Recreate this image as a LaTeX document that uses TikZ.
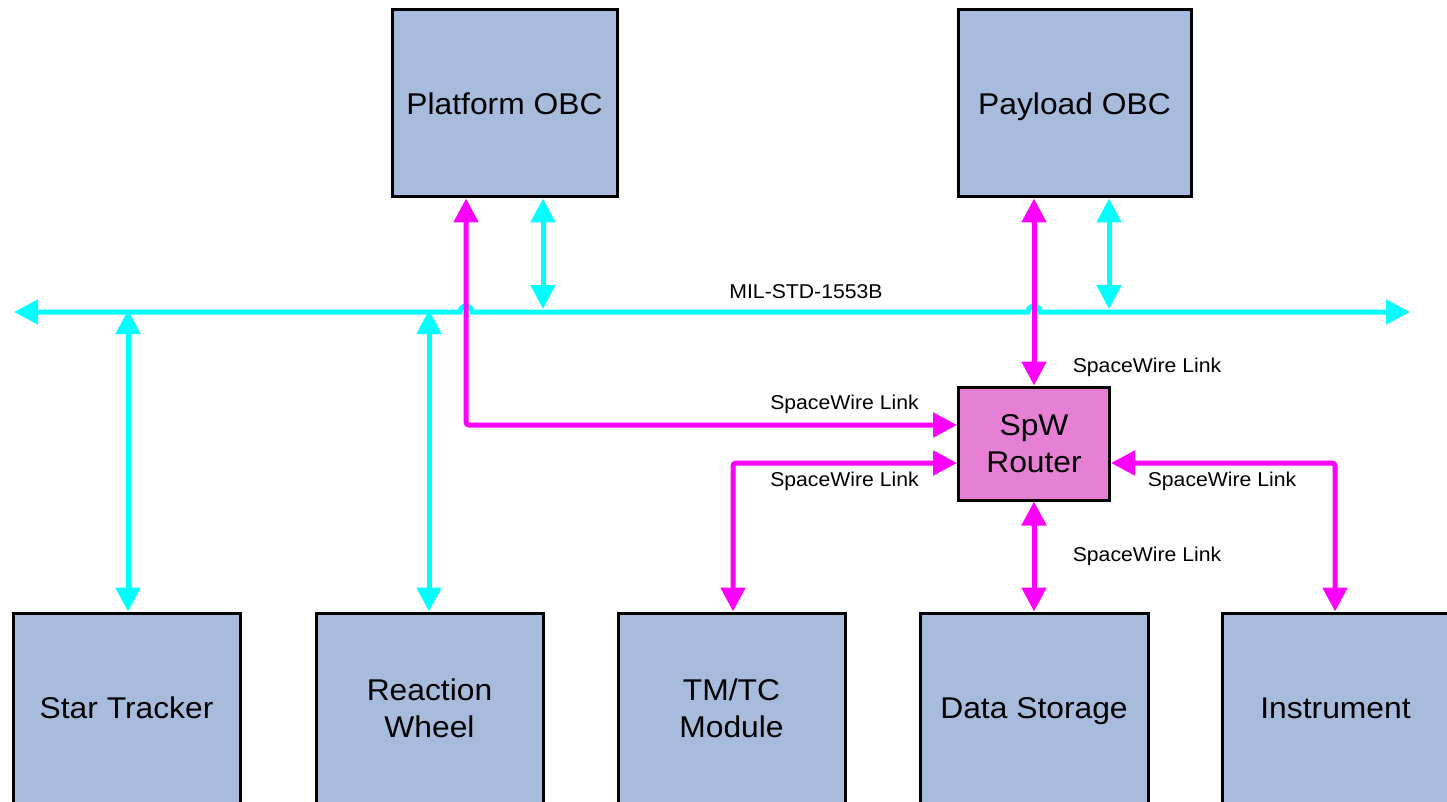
\documentclass[tikz,border=0pt]{standalone}
\usepackage{fontspec}
\setmainfont{Liberation Sans}[FakeStretch=1.06]
\usetikzlibrary{arrows.meta}
\definecolor{boxfill}{HTML}{A7BBDC}
\definecolor{routerfill}{HTML}{E580D5}
\definecolor{cyanline}{HTML}{00FFFF}
\definecolor{magline}{HTML}{FF00FF}
\tikzset{
  unitbox/.style={draw=black, line width=3pt, fill=boxfill, inner sep=0pt,
    align=center, font=\fontsize{30}{37}\selectfont},
  routerbox/.style={unitbox, fill=routerfill},
  bothtips/.style={{Triangle[length=24pt,width=24pt]}-{Triangle[length=24pt,width=24pt]}},
  cyanl/.style={draw=cyanline, line width=5pt, bothtips},
  magl/.style={draw=magline, line width=5pt, bothtips, rounded corners=3pt},
  lbl/.style={font=\fontsize{20}{23}\selectfont, inner sep=0pt}
}
\begin{document}
\begin{tikzpicture}[x=1pt,y=-1pt]
\useasboundingbox (0,0) rectangle (1447,802);
\clip (0,0) rectangle (1447,802);
% boxes
\node[unitbox, minimum width=225pt, minimum height=187pt] (plat) at (504.5,103.5) {Platform OBC};
\node[unitbox, minimum width=233pt, minimum height=187pt, text depth=0pt] (pay) at (1074.5,103.5) {Payload OBC};
\node[routerbox, minimum width=151pt, minimum height=113pt] (rtr) at (1034,443.5) {SpW\\Router};
\node[unitbox, minimum width=227pt, minimum height=190pt] (st) at (126.5,708) {Star Tracker};
\node[unitbox, minimum width=227pt, minimum height=190pt] (rw) at (429.5,708) {Reaction\\Wheel};
\node[unitbox, minimum width=227pt, minimum height=190pt] (tm) at (731.5,708) {TM/TC\\Module};
\node[unitbox, minimum width=228pt, minimum height=190pt, text depth=0pt] (ds) at (1034,708) {Data Storage};
\node[unitbox, minimum width=227pt, minimum height=190pt] (ins) at (1335.5,708) {Instrument};
% bus
\coordinate (busL) at (14,312);
\coordinate (busR) at (1410,312);
\draw[cyanl, line cap=butt] (busL) -- (460,312) arc[start angle=180, end angle=0, radius=6pt]
  -- (1028,312) arc[start angle=180, end angle=0, radius=6pt] -- (busR);
\node[lbl] (milstd) at (806,292) {MIL-STD-1553B};
% cyan bus connections
\draw[cyanl] (plat.south -| 543,0) -- (543,309);
\draw[cyanl] (pay.south -| 1109,0) -- (1109,309);
\draw[cyanl] (128,310) -- (st.north -| 128,0);
\draw[cyanl] (429,310) -- (rw.north -| 429,0);
% spacewire links
\draw[magl] (plat.south -| 466,0) -- (466,425) -- (rtr.west |- 0,425);
\draw[magl] (pay.south -| 1034,0) -- (rtr.north);
\draw[magl] (rtr.west |- 0,463) -- (733,463) -- (tm.north -| 733,0);
\draw[magl] (rtr.south) -- (ds.north);
\draw[magl] (rtr.east |- 0,463) -- (1335,463) -- (ins.north -| 1335,0);
% labels
\node[lbl] (l1) at (1147,367) {SpaceWire Link};
\node[lbl] (l2) at (844.5,404) {SpaceWire Link};
\node[lbl] (l3) at (844.5,481) {SpaceWire Link};
\node[lbl] (l4) at (1222,481) {SpaceWire Link};
\node[lbl] (l5) at (1147,556) {SpaceWire Link};
\end{tikzpicture}
\end{document}
